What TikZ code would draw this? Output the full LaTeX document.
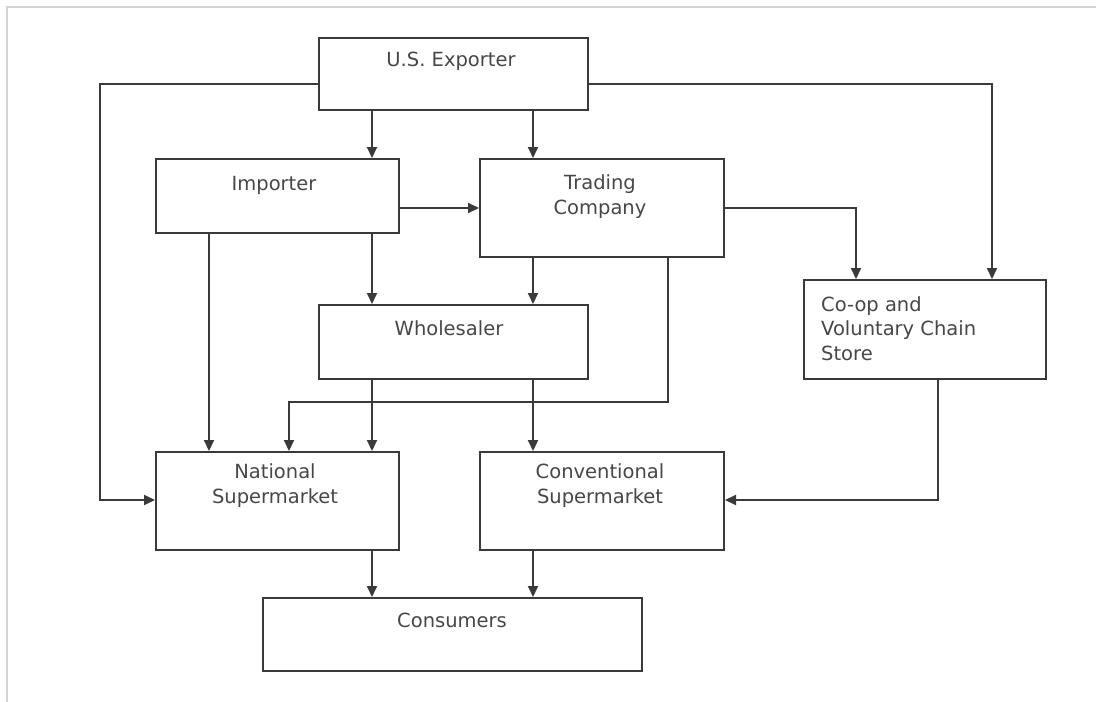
\documentclass[tikz,border=0pt]{standalone}
\usepackage{fontspec}
\setmainfont{DejaVu Sans}
\usetikzlibrary{arrows.meta,calc}
\definecolor{linec}{HTML}{3A3A3A}
\definecolor{textc}{HTML}{474747}
\definecolor{framec}{HTML}{D4D4D4}
\begin{document}
\begin{tikzpicture}[x=1pt,y=-1pt,
  box/.style={draw=linec,line width=2pt,fill=white,anchor=north west,inner sep=0pt},
  lbl/.style={text=textc,font=\fontsize{19.5}{24.5}\selectfont,inner sep=0pt,anchor=base},
  arr/.style={draw=linec,line width=2pt,-{Triangle[length=11pt,width=10pt]}},
  frame/.style={draw=framec,line width=2pt}]
\useasboundingbox[fill=white] (0,0) rectangle (1096,702);
\draw[frame] (7,702) -- (7,7) -- (1096,7);
% boxes
\node[box,minimum width=269pt,minimum height=72pt] (ex) at (318,37) {};
\node[box,minimum width=243pt,minimum height=74pt] (imp) at (155,158) {};
\node[box,minimum width=244pt,minimum height=98pt] (tc) at (479,158) {};
\node[box,minimum width=269pt,minimum height=74pt] (wh) at (318,304) {};
\node[box,minimum width=242pt,minimum height=99pt] (co) at (803,279) {};
\node[box,minimum width=243pt,minimum height=98pt] (ns) at (155,451) {};
\node[box,minimum width=244pt,minimum height=98pt] (cs) at (479,451) {};
\node[box,minimum width=379pt,minimum height=73pt] (cn) at (262,597) {};
% labels (base = baseline of last line)
\node[lbl] (exT) at (451,66) {U.S. Exporter};
\node[lbl] (impT) at (274,190) {Importer};
\node[lbl,align=center] (tcT) at (600,214) {Trading\\Company};
\node[lbl] (whT) at (449,335) {Wholesaler};
\node[lbl,align=left,anchor=base west] (coT) at (821,360) {Co-op and\\Voluntary Chain\\Store};
\node[lbl,align=center] (nsT) at (275,503) {National\\Supermarket};
\node[lbl,align=center] (csT) at (600,503) {Conventional\\Supermarket};
\node[lbl] (cnT) at (452,627) {Consumers};
% lane coordinates
\coordinate (xa) at (100,84);
\coordinate (xb) at (209,0);
\coordinate (xc) at (289,402);
\coordinate (xd) at (372,0);
\coordinate (xe) at (533,0);
\coordinate (xf) at (668,402);
\coordinate (xg) at (856,208);
\coordinate (xh) at (938,500);
\coordinate (xi) at (992,84);
\coordinate (ya) at (0,500);
\coordinate (yb) at (0,208);
% connectors
\draw[arr] (ex.west |- xa) -- (xa) -- (xa |- ya) -- (ns.west |- ya);
\draw[arr] (xd |- ex.south) -- (xd |- imp.north);
\draw[arr] (xe |- ex.south) -- (xe |- tc.north);
\draw[arr] (ex.east |- xi) -- (xi) -- (xi |- co.north);
\draw[arr] (imp.east |- yb) -- (tc.west |- yb);
\draw[arr] (tc.east |- xg) -- (xg) -- (xg |- co.north);
\draw[arr] (xb |- imp.south) -- (xb |- ns.north);
\draw[arr] (xd |- imp.south) -- (xd |- wh.north);
\draw[arr] (xe |- tc.south) -- (xe |- wh.north);
\draw[arr] (xf |- tc.south) -- (xf) -- (xc) -- (xc |- ns.north);
\draw[arr] (xd |- wh.south) -- (xd |- ns.north);
\draw[arr] (xe |- wh.south) -- (xe |- cs.north);
\draw[arr] (xh |- co.south) -- (xh) -- (cs.east |- xh);
\draw[arr] (xd |- ns.south) -- (xd |- cn.north);
\draw[arr] (xe |- cs.south) -- (xe |- cn.north);
\end{tikzpicture}
\end{document}
